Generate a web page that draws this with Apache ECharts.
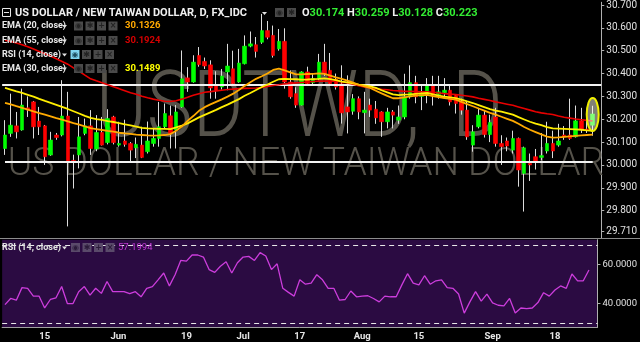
<!DOCTYPE html>
<html><head><meta charset="utf-8">
<script src="https://cdn.jsdelivr.net/npm/echarts@6/dist/echarts.min.js"></script>
<style>html,body{margin:0;padding:0;background:#000;}#c{width:640px;height:342px;}</style>
</head><body><div id="c"></div>
<script>
// ---- data (USD/TWD daily, 4 May – 26 Sep 2017) ----
const opens = [30.072,30.138,30.171,30.153,30.250,30.276,30.192,30.171,30.044,30.131,
30.131,30.214,30.020,30.044,30.138,30.171,30.070,30.142,30.098,30.210,
30.087,30.105,30.094,30.075,30.087,30.058,30.094,30.116,30.167,30.215,
30.153,30.254,30.381,30.363,30.479,30.453,30.438,30.349,30.341,30.407,
30.421,30.363,30.443,30.520,30.526,30.537,30.588,30.567,30.508,30.541,
30.363,30.312,30.262,30.407,30.360,30.378,30.450,30.414,30.375,30.355,
30.254,30.235,30.290,30.229,30.262,30.244,30.232,30.189,30.232,30.196,
30.210,30.298,30.360,30.300,30.305,30.349,30.308,30.316,30.327,30.305,
30.279,30.240,30.087,30.167,30.218,30.133,30.210,30.094,30.105,30.065,
30.116,29.963,30.007,30.036,30.033,30.061,30.094,30.087,30.131,30.131,
30.123,30.193,30.157,30.174];
const closes = [30.131,30.174,30.145,30.262,30.240,30.167,30.167,30.036,30.109,30.120,
30.214,30.014,30.015,30.123,30.171,30.072,30.142,30.087,30.203,30.098,
30.094,30.090,30.065,30.090,30.033,30.105,30.116,30.167,30.225,30.138,
30.232,30.377,30.363,30.450,30.439,30.433,30.337,30.327,30.389,30.433,
30.356,30.446,30.520,30.530,30.497,30.588,30.559,30.479,30.541,30.363,
30.298,30.262,30.407,30.356,30.378,30.450,30.399,30.356,30.341,30.228,
30.232,30.290,30.232,30.240,30.240,30.206,30.189,30.232,30.218,30.210,
30.298,30.360,30.298,30.310,30.349,30.305,30.320,30.327,30.276,30.269,
30.240,30.123,30.145,30.218,30.133,30.186,30.094,30.080,30.083,30.116,
29.978,30.075,30.000,30.017,30.041,30.094,30.061,30.105,30.123,30.116,
30.193,30.157,30.153,30.223];
const lows = [30.044,30.123,30.116,30.150,30.210,30.116,30.131,30.000,30.040,30.110,
30.125,29.731,29.897,29.985,30.130,30.044,30.060,30.085,30.090,30.090,
30.080,30.080,30.014,30.030,30.030,30.050,30.080,30.080,30.160,30.072,
30.072,30.250,30.320,30.360,30.430,30.420,30.290,30.290,30.330,30.327,
30.350,30.360,30.440,30.515,30.470,30.530,30.550,30.470,30.500,30.334,
30.290,30.250,30.260,30.350,30.350,30.370,30.390,30.350,30.330,30.181,
30.138,30.220,30.200,30.138,30.210,30.180,30.123,30.160,30.160,30.180,
30.200,30.290,30.270,30.240,30.270,30.260,30.290,30.300,30.260,30.225,
30.220,30.110,30.058,30.160,30.120,30.100,30.080,30.000,30.060,30.050,
29.905,29.796,29.930,29.980,30.020,30.050,30.030,30.080,30.110,30.110,
30.120,30.140,30.140,30.128];
const highs = [30.196,30.312,30.232,30.334,30.300,30.280,30.254,30.175,30.145,30.140,
30.371,30.320,30.045,30.210,30.203,30.240,30.218,30.210,30.244,30.215,
30.189,30.198,30.100,30.120,30.167,30.190,30.160,30.276,30.269,30.260,
30.262,30.501,30.428,30.480,30.516,30.470,30.458,30.410,30.420,30.530,
30.500,30.508,30.567,30.584,30.560,30.661,30.630,30.610,30.595,30.598,
30.414,30.340,30.410,30.430,30.400,30.486,30.530,30.490,30.400,30.436,
30.392,30.310,30.300,30.320,30.290,30.280,30.235,30.250,30.240,30.260,
30.399,30.436,30.390,30.350,30.380,30.390,30.390,30.380,30.350,30.310,
30.290,30.280,30.174,30.250,30.240,30.220,30.250,30.130,30.120,30.150,
30.120,30.080,30.050,30.070,30.140,30.189,30.150,30.180,30.170,30.290,
30.260,30.250,30.220,30.259];
const ema20 = [30.272,30.265,30.257,30.250,30.242,30.234,30.227,30.220,30.213,30.205,
30.198,30.191,30.183,30.176,30.169,30.161,30.157,30.153,30.149,30.146,
30.141,30.138,30.136,30.133,30.131,30.129,30.128,30.129,30.131,30.135,
30.150,30.168,30.193,30.214,30.237,30.253,30.265,30.276,30.287,30.299,
30.312,30.328,30.346,30.362,30.377,30.388,30.400,30.416,30.422,30.414,
30.405,30.396,30.396,30.398,30.399,30.401,30.399,30.391,30.383,30.377,
30.369,30.360,30.351,30.344,30.337,30.325,30.313,30.302,30.292,30.292,
30.296,30.300,30.303,30.306,30.307,30.301,30.297,30.293,30.289,30.286,
30.276,30.266,30.257,30.247,30.238,30.228,30.220,30.211,30.202,30.193,
30.180,30.166,30.154,30.144,30.134,30.124,30.120,30.121,30.123,30.125,
30.127,30.129,30.131,30.133];
const ema30 = [30.337,30.330,30.322,30.315,30.307,30.299,30.289,30.280,30.272,30.263,
30.254,30.245,30.235,30.225,30.215,30.206,30.201,30.197,30.192,30.188,
30.183,30.178,30.173,30.168,30.162,30.160,30.159,30.158,30.158,30.157,
30.164,30.172,30.182,30.195,30.208,30.219,30.230,30.241,30.253,30.264,
30.276,30.288,30.303,30.315,30.328,30.341,30.352,30.364,30.375,30.377,
30.376,30.375,30.373,30.374,30.376,30.377,30.379,30.376,30.371,30.365,
30.361,30.357,30.352,30.348,30.344,30.337,30.327,30.318,30.309,30.306,
30.308,30.309,30.311,30.313,30.315,30.309,30.303,30.299,30.296,30.292,
30.286,30.278,30.271,30.262,30.253,30.244,30.238,30.233,30.227,30.220,
30.209,30.199,30.189,30.181,30.174,30.166,30.160,30.159,30.158,30.157,
30.156,30.154,30.151,30.149];
const ema55 = [30.546,30.540,30.534,30.526,30.517,30.507,30.497,30.487,30.476,30.465,
30.453,30.441,30.425,30.410,30.393,30.377,30.368,30.360,30.351,30.342,
30.334,30.325,30.316,30.309,30.301,30.294,30.288,30.283,30.279,30.278,
30.281,30.288,30.296,30.305,30.312,30.318,30.321,30.324,30.327,30.330,
30.332,30.334,30.335,30.336,30.337,30.339,30.344,30.348,30.351,30.355,
30.357,30.359,30.361,30.363,30.365,30.367,30.367,30.367,30.366,30.364,
30.359,30.353,30.347,30.341,30.337,30.334,30.331,30.329,30.326,30.324,
30.322,30.322,30.321,30.320,30.320,30.318,30.315,30.312,30.310,30.308,
30.305,30.302,30.298,30.292,30.287,30.282,30.276,30.271,30.266,30.261,
30.254,30.247,30.240,30.233,30.228,30.224,30.221,30.214,30.209,30.205,
30.201,30.198,30.195,30.192];
const rsi14 = [39.48,42.61,41.74,48.17,47.83,43.83,43.83,37.74,42.09,42.96,
48.70,40.00,40.00,46.09,48.70,44.35,47.83,45.22,51.30,46.09,
46.09,46.09,45.04,46.09,43.48,47.83,48.70,52.17,55.65,49.04,
54.78,62.09,61.74,64.87,64.87,63.83,57.39,56.00,59.13,61.39,
55.65,60.87,63.83,64.17,62.09,66.09,64.35,57.39,60.35,47.83,
45.74,43.83,52.17,49.91,50.43,54.78,52.17,47.83,47.83,41.74,
42.09,46.44,43.48,43.83,44.00,42.61,40.87,43.83,43.48,43.48,
49.57,55.30,50.43,49.57,54.26,49.91,51.65,52.17,48.17,47.83,
44.87,35.13,40.87,46.09,41.22,44.87,40.35,39.13,38.78,42.61,
35.13,37.74,37.39,37.74,40.52,45.57,43.83,46.96,49.04,47.83,
55.13,51.65,51.65,57.20];
const priceTicks = [29.71,29.8,29.9,30.0,30.1,30.2,30.3,30.4,30.5,30.6,30.7];
const rsiTicks = [40, 60];
const rsiBands = [70, 30];
const levelTop = 30.352, levelBottom = 30.016;
const xLabelIdx = [7,20,32,42,52,63,73,86,97];
const xLabelText = ['15','Jun','19','Jul','17','Aug','15','Sep','18'];
const legendRows = [
  {name:'EMA (20, close)', value:'30.1326', color:'#ffa800'},
  {name:'EMA (55, close)', value:'30.1924', color:'#d40000'},
  {name:'RSI (14, close)', value:'', color:''},
  {name:'EMA (30, close)', value:'30.1489', color:'#ffff00'}
];
const quote = {O:'30.174', H:'30.259', L:'30.128', C:'30.223'};
const lastPrice = 30.223;
const rsiLast = '57.1994';
const highlight = {top:30.293, bottom:30.149};

// ---- categories: weekdays ----
const N = opens.length;
const cats = [];
let d = new Date(Date.UTC(2017,4,4));
while (cats.length < N) {
  const wd = d.getUTCDay();
  if (wd > 0 && wd < 6) cats.push(d.toISOString().slice(0,10));
  d = new Date(d.getTime() + 86400000);
}
cats.push(''); // empty band up to the price scale

const FONT = 'Roboto, "Liberation Sans", Arial, sans-serif';
const GL = 2.14, GR = 37.3;
const chart = echarts.init(document.getElementById('c'));

const wickData = opens.map((o,i)=>[o, closes[i], lows[i], highs[i]]);
const bodyData = opens.map((o,i)=>[o, closes[i], Math.min(o,closes[i]), Math.max(o,closes[i])]);

chart.setOption({
  backgroundColor:'#000',
  animation:false,
  grid:[
    {left:GL, right:GR, top:0, bottom:103.7},
    {left:GL, right:GR, top:239.7, bottom:14.6, show:true, backgroundColor:'#2b0b42', borderWidth:0}
  ],
  xAxis:[
    {type:'category', gridIndex:0, data:cats, boundaryGap:true,
     axisLine:{show:false}, axisTick:{show:false}, axisLabel:{show:false}, splitLine:{show:false}},
    {type:'category', gridIndex:1, data:cats, boundaryGap:true,
     axisLine:{show:true, lineStyle:{color:'#a0a0a0', width:1}}, axisTick:{show:false},
     axisLabel:{show:true, interval:(idx)=>xLabelIdx.indexOf(idx)>=0,
       formatter:(v,idx)=>{const k=xLabelIdx.indexOf(idx); return k>=0?xLabelText[k]:'';},
       color:'#e6e6e6', fontSize:9.5, fontWeight:'bold', fontFamily:FONT, margin:4},
     splitLine:{show:false}}
  ],
  yAxis:[
    {type:'value', gridIndex:0, position:'right', min:29.679, max:30.712, scale:true,
     axisLine:{show:true, lineStyle:{color:'#b0b0b0', width:1}},
     axisTick:{show:true, length:3, customValues:priceTicks, lineStyle:{color:'#b0b0b0'}},
     axisLabel:{customValues:priceTicks, formatter:(v)=>v.toFixed(3), color:'#e0e0e0',
       fontSize:10, fontFamily:FONT, margin:5},
     splitLine:{show:false}},
    {type:'value', gridIndex:1, position:'right', min:27.8, max:72.7,
     axisLine:{show:true, lineStyle:{color:'#b0b0b0', width:1}},
     axisTick:{show:true, length:3, customValues:rsiTicks, lineStyle:{color:'#b0b0b0'}},
     axisLabel:{customValues:rsiTicks, formatter:(v)=>v.toFixed(4), color:'#e0e0e0',
       fontSize:9.5, fontFamily:FONT, margin:5},
     splitLine:{show:false}}
  ],
  series:[
    {type:'candlestick', name:'wicks', xAxisIndex:0, yAxisIndex:0, data:wickData, barWidth:1, z:3,
     itemStyle:{color:'#dcdcdc', color0:'#dcdcdc', borderColor:'#dcdcdc', borderColor0:'#dcdcdc', borderWidth:1}},
    {type:'candlestick', name:'bodies', xAxisIndex:0, yAxisIndex:0, data:bodyData, barWidth:4, z:4,
     itemStyle:{color:'#00ff00', color0:'#ff0000', borderColor:'#00ff00', borderColor0:'#ff0000', borderWidth:0.6},
     markLine:{silent:true, symbol:'none', animation:false,
       data:[
         {yAxis:levelTop, lineStyle:{color:'#f2f2f2', width:2, type:'solid'}, label:{show:false}},
         [{coord:[cats[0], levelBottom], lineStyle:{color:'#f2f2f2', width:2, type:'solid'}, label:{show:false}},
          {coord:[cats[N-1], levelBottom]}],
         {yAxis:lastPrice, lineStyle:{opacity:0, width:0},
          label:{show:true, position:'end', distance:1, formatter:lastPrice.toFixed(3),
            backgroundColor:'#00ff00', color:'#00a800', fontSize:10, fontFamily:FONT,
            padding:[1,6,1,3]}}
       ]}},
    {type:'line', name:'EMA55', xAxisIndex:0, yAxisIndex:0, data:ema55, showSymbol:false, z:5,
     lineStyle:{color:'#e80000', width:1.6}},
    {type:'line', name:'EMA30', xAxisIndex:0, yAxisIndex:0, data:ema30, showSymbol:false, z:5,
     lineStyle:{color:'#ffee00', width:1.8}},
    {type:'line', name:'EMA20', xAxisIndex:0, yAxisIndex:0, data:ema20, showSymbol:false, z:5,
     lineStyle:{color:'#ffaa00', width:1.8}},
    {type:'line', name:'RSI', xAxisIndex:1, yAxisIndex:1, data:rsi14, showSymbol:false, z:5,
     lineStyle:{color:'#cc3ddc', width:1.3},
     markLine:{silent:true, symbol:'none', label:{show:false},
       lineStyle:{color:'#e8e8e8', width:1, type:[5,4]},
       data:rsiBands.map(v=>({yAxis:v}))}}
  ]
});

// ---- overlay graphics ----
const gfx = [];
function txt(x, y, text, fill, font, z, extra) {
  gfx.push(Object.assign({type:'text', x:x, y:y, z:z||100, silent:true,
    style:{text:text, fill:fill, font:font, align:'left', verticalAlign:'middle',
           textAlign:'left', textVerticalAlign:'middle'}}, extra||{}));
}
function tri(x, y, fill) {
  gfx.push({type:'polygon', z:100, silent:true, shape:{points:[[x,y-1.5],[x+5,y-1.5],[x+2.5,y+1.5]]}, style:{fill:fill}});
}
function icon(x, y, glyph, fill, gc) {
  gfx.push({type:'rect', z:100, silent:true, shape:{x:x, y:y-4.5, width:9, height:9}, style:{fill:fill}});
  gfx.push({type:'text', z:101, silent:true, x:x+4.5, y:y,
    style:{text:glyph, fill:gc, font:'bold 8px "DejaVu Sans", sans-serif', align:'center', verticalAlign:'middle',
           textAlign:'center', textVerticalAlign:'middle'}});
}
// watermark (symbol text, with the wide gap before the interval letter)
const WM = '#55524a';
gfx.push({type:'text', x:96, y:113, z:1, silent:true, scaleX:0.84, originX:0, originY:0,
  style:{text:'USDTWD,', fill:WM, font:'300 92px '+FONT, align:'left', verticalAlign:'middle',
         textAlign:'left', textVerticalAlign:'middle'}});
gfx.push({type:'text', x:452, y:113, z:1, silent:true, scaleX:0.84, originX:0, originY:0,
  style:{text:'D', fill:WM, font:'300 92px '+FONT, align:'left', verticalAlign:'middle',
         textAlign:'left', textVerticalAlign:'middle'}});
gfx.push({type:'text', x:306, y:165.5, z:1, silent:true, scaleX:0.98, originX:0, originY:0,
  style:{text:'US DOLLAR / NEW TAIWAN DOLLAR', fill:WM, font:'300 38px '+FONT, align:'center', verticalAlign:'middle',
         textAlign:'center', textVerticalAlign:'middle'}});
// separator between panes
gfx.push({type:'line', z:50, silent:true, shape:{x1:0, y1:238.5, x2:640, y2:238.5}, style:{stroke:'#8c8c8c', lineWidth:1}});
// header
gfx.push({type:'rect', z:100, silent:true, shape:{x:2.5, y:8.5, width:8, height:8}, style:{fill:'none', stroke:'#e8e8e8', lineWidth:1}});
gfx.push({type:'line', z:100, silent:true, shape:{x1:4, y1:12.5, x2:9, y2:12.5}, style:{stroke:'#e8e8e8', lineWidth:1}});
txt(15, 13, 'US DOLLAR / NEW TAIWAN DOLLAR, D, FX_IDC', '#f0f0f0', 'bold 11px '+FONT);
tri(262, 13.5, '#e0e0e0');
icon(275, 12.5, '◉', '#4a4a4a', '#222');
icon(287, 12.5, '✱', '#4a4a4a', '#222');
gfx.push({type:'text', x:302, y:13, z:100, silent:true,
  style:{text:'{w|O}{g|'+quote.O+'} {w|H}{g|'+quote.H+'} {w|L}{g|'+quote.L+'} {w|C}{g|'+quote.C+'}',
    align:'left', verticalAlign:'middle', textAlign:'left', textVerticalAlign:'middle',
    font:'bold 11px '+FONT,
    rich:{w:{fill:'#f0f0f0', font:'bold 11px '+FONT}, g:{fill:'#33ee33', font:'bold 11px '+FONT}}}});
const rowY = [26, 40.5, 54.5, 68.5];
legendRows.forEach((r, k)=>{
  const y = rowY[k];
  txt(2, y, r.name, '#e8e8e8', 'bold 9px '+FONT);
  tri(62, y+0.5, '#e0e0e0');
  if (k === 2) {
    icon(70.5, y, '◉', '#7fd3ef', '#1d4d60');
    icon(82, y, '✱', '#4a4a4a', '#222');
    icon(93.5, y, '+', '#4a4a4a', '#222');
    icon(105, y, '×', '#4a4a4a', '#222');
  } else {
    icon(74, y, '◉', '#4a4a4a', '#222');
    icon(85.5, y, '✱', '#4a4a4a', '#222');
    icon(97, y, '+', '#4a4a4a', '#222');
    icon(108.5, y, '×', '#4a4a4a', '#222');
    txt(125, y, r.value, r.color, 'bold 9.5px '+FONT);
  }
});
// RSI pane legend
txt(2, 247.5, 'RSI (14, close)', '#e0e0e0', 'bold 9px '+FONT);
tri(62, 248, '#e0e0e0');
icon(71, 247.5, '◉', '#5a4a6a', '#2b1a3a');
icon(82.5, 247.5, '✱', '#5a4a6a', '#2b1a3a');
icon(94, 247.5, '+', '#5a4a6a', '#2b1a3a');
icon(105.5, 247.5, '×', '#5a4a6a', '#2b1a3a');
txt(118, 247.5, rsiLast, '#c23ad4', '9.5px '+FONT);
// highlight ellipse around the last candle
const pTop = chart.convertToPixel({xAxisIndex:0, yAxisIndex:0}, [cats[N-1], highlight.top]);
const pBot = chart.convertToPixel({xAxisIndex:0, yAxisIndex:0}, [cats[N-1], highlight.bottom]);
const band = chart.convertToPixel({xAxisIndex:0}, cats[1]) - chart.convertToPixel({xAxisIndex:0}, cats[0]);
gfx.push({type:'ellipse', z:60, silent:true,
  shape:{cx:pTop[0], cy:(pTop[1]+pBot[1])/2, rx:band*1.05, ry:(pBot[1]-pTop[1])/2},
  style:{fill:'rgba(255,255,235,0.5)', stroke:'#f0f000', lineWidth:2}});

chart.setOption({graphic:{elements:gfx}});
</script>
</body></html>
